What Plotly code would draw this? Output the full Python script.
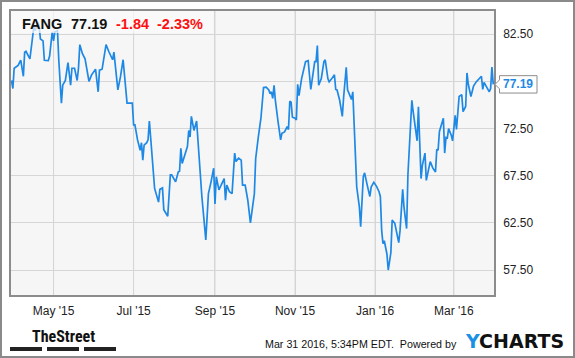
import plotly.graph_objects as go

dates = [
"2015-03-30","2015-03-31","2015-04-01","2015-04-04","2015-04-06","2015-04-08","2015-04-09","2015-04-10","2015-04-13","2015-04-14",
"2015-04-16","2015-04-17","2015-04-19","2015-04-20","2015-04-21","2015-04-23","2015-04-24","2015-04-27","2015-04-28","2015-04-30",
"2015-05-01","2015-05-02","2015-05-04","2015-05-05","2015-05-07","2015-05-08","2015-05-10","2015-05-12","2015-05-14","2015-05-15",
"2015-05-17","2015-05-19","2015-05-20","2015-05-21","2015-05-23","2015-05-25","2015-05-28","2015-05-30","2015-06-02","2015-06-04",
"2015-06-05","2015-06-07","2015-06-10","2015-06-12","2015-06-15","2015-06-16","2015-06-19","2015-06-21","2015-06-23","2015-06-26",
"2015-06-29","2015-06-30","2015-07-01","2015-07-02","2015-07-04","2015-07-06","2015-07-07","2015-07-08","2015-07-09","2015-07-11",
"2015-07-12","2015-07-13","2015-07-17","2015-07-20","2015-07-21","2015-07-23","2015-07-24","2015-07-27","2015-07-29","2015-07-30",
"2015-08-02","2015-08-04","2015-08-05","2015-08-06","2015-08-07","2015-08-09","2015-08-11","2015-08-12","2015-08-13","2015-08-14",
"2015-08-16","2015-08-18","2015-08-19","2015-08-22","2015-08-25","2015-08-27","2015-08-29","2015-08-31","2015-09-01","2015-09-02",
"2015-09-04","2015-09-06","2015-09-08","2015-09-09","2015-09-10","2015-09-12","2015-09-14","2015-09-16","2015-09-17","2015-09-19",
"2015-09-21","2015-09-22","2015-09-24","2015-09-26","2015-09-28","2015-10-01","2015-10-02","2015-10-04","2015-10-05","2015-10-06",
"2015-10-08","2015-10-10","2015-10-12","2015-10-13","2015-10-14","2015-10-15","2015-10-16","2015-10-17","2015-10-19","2015-10-21",
"2015-10-22","2015-10-24","2015-10-26","2015-10-27","2015-10-28","2015-10-29","2015-10-30","2015-11-01","2015-11-02","2015-11-03",
"2015-11-04","2015-11-06","2015-11-09","2015-11-11","2015-11-13","2015-11-15","2015-11-16","2015-11-17","2015-11-18","2015-11-19",
"2015-11-21","2015-11-23","2015-11-24","2015-11-26","2015-11-27","2015-11-29","2015-12-01","2015-12-02","2015-12-03","2015-12-05",
"2015-12-07","2015-12-08","2015-12-10","2015-12-11","2015-12-13","2015-12-14","2015-12-15","2015-12-16","2015-12-18","2015-12-20",
"2015-12-21","2015-12-23","2015-12-24","2015-12-26","2015-12-28","2015-12-29","2015-12-30","2015-12-31","2016-01-02","2016-01-04",
"2016-01-05","2016-01-06","2016-01-07","2016-01-08","2016-01-10","2016-01-11","2016-01-13","2016-01-14","2016-01-16","2016-01-18",
"2016-01-19","2016-01-20","2016-01-22","2016-01-23","2016-01-25","2016-01-26","2016-01-27","2016-01-29","2016-01-30","2016-02-01",
"2016-02-02","2016-02-03","2016-02-05","2016-02-06","2016-02-08","2016-02-09","2016-02-10","2016-02-12","2016-02-14","2016-02-16",
"2016-02-17","2016-02-18","2016-02-19","2016-02-21","2016-02-22","2016-02-23","2016-02-24","2016-02-25","2016-02-26","2016-02-28",
"2016-02-29","2016-03-02","2016-03-03","2016-03-05","2016-03-07","2016-03-08","2016-03-10","2016-03-11","2016-03-12","2016-03-14",
"2016-03-16","2016-03-18","2016-03-20","2016-03-22","2016-03-23","2016-03-24","2016-03-26","2016-03-28","2016-03-29","2016-03-30",
"2016-03-31"]

prices = [
77.6,76.75,78.9,79.2,79.75,78.05,80.6,80.7,79.9,80.9,
83.3,82.9,83.8,83.4,82.0,81.8,79.75,79.7,80.2,82.75,
81.8,82.75,82.9,79.75,75.2,77.1,77.6,79.5,77.1,78.9,
78.9,77.6,78.9,81.4,80.45,79.9,77.5,78.2,78.8,76.4,
78.7,78.8,81.4,80.7,79.8,80.6,76.6,78.0,79.8,75.2,
75.15,75.2,72.9,72.9,71.3,70.2,71.0,69.15,70.75,71.0,
71.3,73.3,66.15,64.7,66.05,66.2,63.9,63.2,67.6,67.6,
66.85,67.9,68.0,70.4,68.8,69.6,70.6,72.3,71.6,73.8,
72.3,73.3,71.1,65.3,60.7,65.6,66.85,68.3,64.5,67.4,
66.0,66.6,67.2,64.9,66.5,65.8,65.6,69.9,69.0,69.35,
69.15,66.5,66.5,64.9,62.5,65.6,69.3,71.6,72.7,73.6,
76.85,76.9,76.6,76.2,76.4,75.7,77.1,75.5,73.3,71.3,
72.0,72.15,72.7,72.4,75.4,75.3,73.7,73.6,73.4,77.2,
76.0,77.8,79.6,79.7,76.65,78.6,79.6,79.6,81.3,77.1,
77.8,79.6,79.8,77.8,77.45,77.8,78.2,76.65,76.6,75.5,
73.8,75.8,79.0,76.6,76.0,75.6,76.4,72.3,66.3,64.2,
62.1,67.4,67.8,66.5,65.3,66.3,66.6,66.8,66.4,65.8,
65.3,61.7,60.3,60.6,59.2,57.5,59.35,62.8,62.45,61.0,
60.4,61.7,66.05,64.2,61.9,67.6,70.6,75.5,74.3,72.3,
71.2,74.8,67.2,68.6,69.9,67.0,67.6,69.0,68.3,67.9,
70.3,70.2,72.2,73.1,73.6,69.9,71.55,71.5,72.5,71.8,
71.2,73.9,72.4,75.9,76.1,74.3,74.85,78.4,77.2,75.9,
77.0,77.45,77.8,78.05,76.65,77.4,76.9,76.4,76.75,79.03,
77.19]

ticker = "FANG"
last_price = 77.19
change = "-1.84"
change_pct = "-2.33%"
y_range = [54.85, 84.97]
x_range = ["2015-03-29 14:00", "2016-03-31 14:00"]
y_ticks = [57.5, 62.5, 67.5, 72.5, 77.5, 82.5]
y_ticks_shown = [57.5, 62.5, 67.5, 72.5, 82.5]
x_ticks = ["2015-05-01", "2015-07-01", "2015-09-01", "2015-11-01", "2016-01-01", "2016-03-01"]
x_tick_labels = ["May '15", "Jul '15", "Sep '15", "Nov '15", "Jan '16", "Mar '16"]
footer_text = "Mar 31 2016, 5:34PM EDT.  Powered by"

W, H = 575, 358
L, R, T, B = 11, 81, 11, 63
PW, PH = W - L - R, H - T - B

def px(x):
    return (x - L) / PW

def py(y):
    return 1 - (y - T) / PH

FONT = "Arial, Liberation Sans, sans-serif"
BLUE = "#1e88e5"
GRID = "#d6d6d6"

fig = go.Figure()
# vertical gridlines drawn as a line trace through the axes
gx, gy = [], []
for d in x_ticks:
    gx += [d, d, None]
    gy += [y_range[0], y_range[1], None]
fig.add_trace(go.Scatter(x=gx, y=gy, mode="lines", line=dict(color=GRID, width=1),
                         hoverinfo="skip", connectgaps=False))
fig.add_trace(go.Scatter(x=dates, y=prices, mode="lines",
                         line=dict(color=BLUE, width=1.7), hoverinfo="skip"))

fig.update_layout(
    template="none",
    width=W, height=H,
    margin=dict(l=L, r=R, t=T, b=B, autoexpand=False),
    paper_bgcolor="white", plot_bgcolor="#f6f6f6",
    showlegend=False,
    font=dict(family=FONT, size=12, color="#222"),
    xaxis=dict(type="date", range=x_range,
               tickvals=x_ticks, ticktext=x_tick_labels,
               showgrid=True, gridcolor=GRID, gridwidth=1,
               showline=True, linecolor="#8c8c8c", linewidth=1.5, mirror=True,
               ticks="", tickfont=dict(size=12, color="#222", family=FONT),
               ticklabelstandoff=4, zeroline=False, fixedrange=True, automargin=False),
    yaxis=dict(range=y_range, side="right",
               tickvals=y_ticks, ticktext=[f"{v:.2f}" if v in y_ticks_shown else "" for v in y_ticks],
               showgrid=True, gridcolor=GRID, gridwidth=1,
               showline=True, linecolor="#8c8c8c", linewidth=1.5, mirror=True,
               ticks="", tickfont=dict(size=12, color="#222", family=FONT),
               ticklabelstandoff=5, zeroline=False, fixedrange=True, automargin=False),
)

shapes = []
shapes.append(dict(type="rect", xref="paper", yref="paper",
                   x0=px(11), x1=px(213), y0=py(11), y1=py(33),
                   fillcolor="rgba(250,250,250,0.72)", line=dict(width=0), layer="above"))
shapes.append(dict(type="rect", xref="paper", yref="paper",
                   x0=px(1), x1=px(574), y0=py(357), y1=py(1),
                   line=dict(color="#8a8a8a", width=2), fillcolor="rgba(0,0,0,0)"))
for x0, x1 in [(10, 42), (47, 79), (84, 116)]:
    shapes.append(dict(type="rect", xref="paper", yref="paper",
                       x0=px(x0), x1=px(x1), y0=py(351), y1=py(347),
                       fillcolor="#222", line=dict(width=0)))
shapes.append(dict(type="path", xref="paper", yref="y",
                   xsizemode="pixel", ysizemode="pixel",
                   xanchor=1, yanchor=last_price,
                   path="M 1 0 L 5.5 4.5 L 5.5 8.7 L 43 8.7 L 43 -8.7 L 5.5 -8.7 L 5.5 -4.5 Z",
                   fillcolor="white", line=dict(color="#8c8c8c", width=1)))
fig.update_layout(shapes=shapes)

ann = []
def text_at(x, y, s, size, color, anchor="left", bold=False, family=FONT):
    ann.append(dict(xref="paper", yref="paper", x=px(x), y=py(y), text=(f"<b>{s}</b>" if bold else s),
                    showarrow=False, xanchor=anchor, yanchor="middle",
                    font=dict(size=size, color=color, family=family)))

text_at(20, 23.5, ticker, 14.5, "#111", bold=True)
text_at(69, 23.5, f"{last_price:.2f}", 14.5, "#111", bold=True)
text_at(114, 23.5, change, 14.5, "#ff1010", bold=True)
text_at(155, 23.5, change_pct, 14.5, "#ff1010", bold=True)

ann.append(dict(xref="paper", yref="y", x=1, y=last_price, xshift=24, text=f"<b>{last_price:.2f}</b>",
                showarrow=False, xanchor="center", yanchor="middle",
                font=dict(size=12, color=BLUE, family=FONT)))

text_at(63, 336, "TheStreet", 16, "#111", anchor="center", bold=True,
        family="Liberation Sans Narrow, Arial Narrow, Roboto Condensed, sans-serif")
text_at(459, 344, footer_text, 10.7, "#111", anchor="right")
ann.append(dict(xref="paper", yref="paper", x=px(463), y=py(341),
                text="<b><span style='color:#1a8fe6'>Y</span>CHARTS</b>",
                showarrow=False, xanchor="left", yanchor="middle",
                font=dict(size=19, color="#111", family="DejaVu Sans, sans-serif")))
fig.update_layout(annotations=ann)

fig.write_html("out.html", config={"displayModeBar": False},
               post_script="document.body.style.margin='0px';")
